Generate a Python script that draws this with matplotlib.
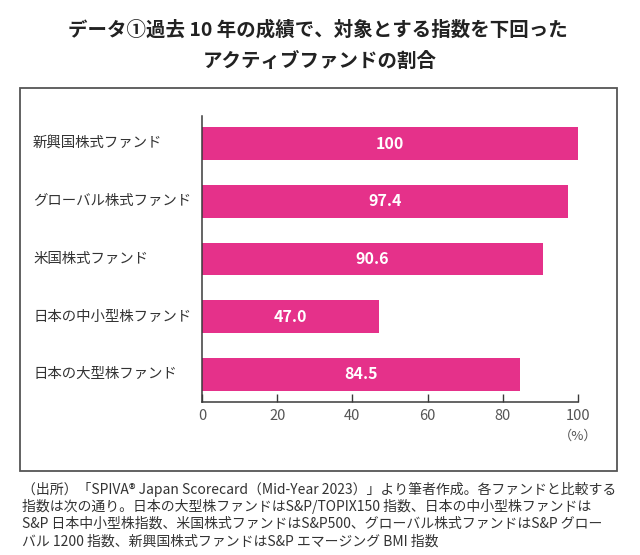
import matplotlib
matplotlib.use("Agg")
import matplotlib.pyplot as plt
from matplotlib.patches import Rectangle

plt.rcParams['font.family'] = ['Noto Sans CJK JP', 'DejaVu Sans']

categories = ["日本の大型株ファンド", "日本の中小型株ファンド", "米国株式ファンド",
              "グローバル株式ファンド", "新興国株式ファンド"]
values = [84.5, 47.0, 90.6, 97.4, 100]
value_labels = ["84.5", "47.0", "90.6", "97.4", "100"]
xticks = [0, 20, 40, 60, 80, 100]

title_lines = ["データ①過去 10 年の成績で、対象とする指数を下回った", "アクティブファンドの割合"]
footnote = ["（出所）「SPIVA® Japan Scorecard（Mid-Year 2023）」より筆者作成。各ファンドと比較する",
            "指数は次の通り。日本の大型株ファンドはS&P/TOPIX150 指数、日本の中小型株ファンドは",
            "S&P 日本中小型株指数、米国株式ファンドはS&P500、グローバル株式ファンドはS&P グロー",
            "バル 1200 指数、新興国株式ファンドはS&P エマージング BMI 指数"]

W, H = 640, 555
fig = plt.figure(figsize=(W/100, H/100), dpi=100)
pink = "#E5318A"
dark = "#3a3a3a"

# frame box
fig.patches.append(Rectangle((20/W, 1-471/H), (617-20)/W, (471-88)/H, transform=fig.transFigure,
                             fill=False, edgecolor="#555555", linewidth=1.3))

ax = fig.add_axes([202/W, 1-402/H, (578-202)/W, (402-116)/H])
y = list(range(len(categories)))
ax.barh(y, values, height=0.57, color=pink)
for yi, v, lab in zip(y, values, value_labels):
    ax.text(v/2, yi, lab, ha='center', va='center', color='white', fontsize=11.5, fontweight='bold')
ax.set_xlim(0, 100)
ax.set_ylim(-0.48, 4.48)
ax.set_yticks([])
ax.set_xticks(xticks)
ax.set_xticklabels([str(t) for t in xticks])
ax.tick_params(axis='x', direction='in', length=6, width=1, color=dark, labelcolor="#555555",
               labelsize=10.5, pad=5)
for s in ['top', 'right']:
    ax.spines[s].set_visible(False)
for s in ['left', 'bottom']:
    ax.spines[s].set_color(dark)
    ax.spines[s].set_linewidth(1.1)

for yi, c in zip(y, categories):
    ydisp = ax.transData.transform((0, yi))[1]
    fig.text(33/W, ydisp/H, c, ha='left', va='center', fontsize=10.4, color="#333333")

fig.text(578/W, 1-436/H, "（%）", ha='center', va='center', fontsize=9.5, color="#555555")

fig.text(318/W, 1-30/H, title_lines[0], ha='center', va='center', fontsize=14, fontweight='bold', color="#222222")
fig.text(320/W, 1-61/H, title_lines[1], ha='center', va='center', fontsize=14, fontweight='bold', color="#222222")

for i, line in enumerate(footnote):
    fig.text(22/W, 1-(489 + i*17.5)/H, line, ha='left', va='center', fontsize=10, color="#333333")

fig.savefig("out.png", dpi=100)
